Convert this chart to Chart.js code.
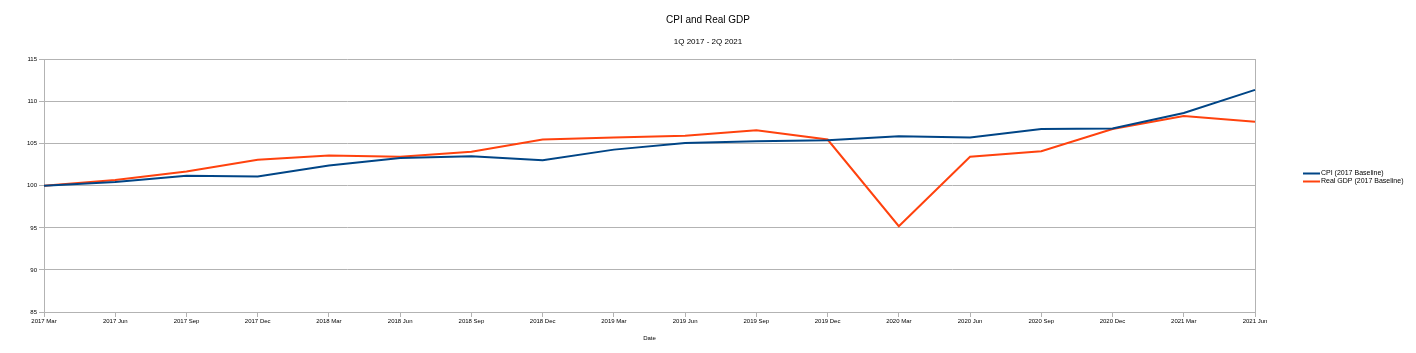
<!DOCTYPE html>
<html>
<head>
<meta charset="utf-8">
<script src="https://cdn.jsdelivr.net/npm/chart.js@4/dist/chart.umd.min.js"></script>
<style>
  html, body { margin: 0; padding: 0; background: #ffffff; }
  #wrap { width: 1416px; height: 353px; }
</style>
</head>
<body>
<div id="wrap"><canvas id="c" width="1416" height="353"></canvas></div>
<script>
const categories = ['2017 Mar','2017 Jun','2017 Sep','2017 Dec','2018 Mar','2018 Jun','2018 Sep','2018 Dec','2019 Mar','2019 Jun','2019 Sep','2019 Dec','2020 Mar','2020 Jun','2020 Sep','2020 Dec','2021 Mar','2021 Jun'];
const cpiValues = [100, 100.45, 101.2, 101.1, 102.4, 103.3, 103.5, 103.05, 104.3, 105.1, 105.3, 105.4, 105.9, 105.75, 106.75, 106.8, 108.65, 111.4];
const gdpValues = [100, 100.7, 101.7, 103.1, 103.6, 103.45, 104.05, 105.5, 105.75, 105.95, 106.6, 105.5, 95.2, 103.45, 104.1, 106.75, 108.3, 107.6];
const seriesLabels = ['CPI (2017 Baseline)', 'Real GDP (2017 Baseline)'];
const yTicks = [85, 90, 95, 100, 105, 110, 115];

const FONT = '"Liberation Sans", Arial, sans-serif';
const GRID = '#b3b3b3';

const sideLegend = {
  id: 'sideLegend',
  afterDraw(chart) {
    const ctx = chart.ctx;
    const a = chart.chartArea;
    ctx.save();
    ctx.font = '7px ' + FONT;
    ctx.textBaseline = 'middle';
    ctx.textAlign = 'left';
    chart.data.datasets.forEach((ds, i) => {
      const y = 173.5 + i * 8;
      const x0 = a.right + 48;
      ctx.strokeStyle = ds.borderColor;
      ctx.lineWidth = 2;
      ctx.beginPath();
      ctx.moveTo(x0, y);
      ctx.lineTo(x0 + 17, y);
      ctx.stroke();
      ctx.fillStyle = '#000';
      ctx.fillText(ds.label, x0 + 18, y);
    });
    ctx.restore();
  }
};

new Chart(document.getElementById('c'), {
  type: 'line',
  data: {
    labels: categories,
    datasets: [
      { label: seriesLabels[0], data: cpiValues, borderColor: '#004586', backgroundColor: '#004586', borderWidth: 2, pointRadius: 0, tension: 0, fill: false },
      { label: seriesLabels[1], data: gdpValues, borderColor: '#ff420e', backgroundColor: '#ff420e', borderWidth: 2, pointRadius: 0, tension: 0, fill: false }
    ]
  },
  options: {
    responsive: false,
    devicePixelRatio: 1,
    animation: false,
    layout: { padding: 0 },
    plugins: {
      legend: { display: false },
      tooltip: { enabled: false },
      title: { display: true, text: 'CPI and Real GDP', color: '#000', font: { family: FONT, size: 10, weight: 'normal' }, padding: { top: 14, bottom: 11 } },
      subtitle: { display: true, text: '1Q 2017 - 2Q 2021', color: '#000', font: { family: FONT, size: 8, weight: 'normal' }, padding: { top: 0, bottom: 13 } }
    },
    scales: {
      x: {
        type: 'category',
        offset: false,
        afterFit: (s) => { s.height = 41; },
        grid: { drawOnChartArea: false, tickColor: GRID, tickLength: 5, lineWidth: 1, color: GRID },
        border: { color: GRID, width: 1 },
        ticks: { autoSkip: false, maxRotation: 0, minRotation: 0, color: '#000', font: { family: FONT, size: 6 }, padding: 1 },
        title: { display: true, text: 'Date', color: '#000', font: { family: FONT, size: 6 }, padding: { top: 4, bottom: 11 } }
      },
      y: {
        min: yTicks[0],
        max: yTicks[yTicks.length - 1],
        afterFit: (s) => { s.width = 44; },
        afterBuildTicks: (s) => { s.ticks = yTicks.map(v => ({ value: v })); },
        grid: { color: GRID, tickColor: GRID, tickLength: 5, lineWidth: 1 },
        border: { color: GRID, width: 1 },
        ticks: { color: '#000', font: { family: FONT, size: 6 }, padding: 2 }
      },
      yRight: {
        position: 'right',
        min: yTicks[0],
        max: yTicks[yTicks.length - 1],
        afterFit: (s) => { s.width = 161; },
        grid: { drawOnChartArea: false, drawTicks: false },
        border: { display: true, color: GRID, width: 1 },
        ticks: { display: false }
      }
    }
  },
  plugins: [sideLegend]
});
</script>
</body>
</html>
